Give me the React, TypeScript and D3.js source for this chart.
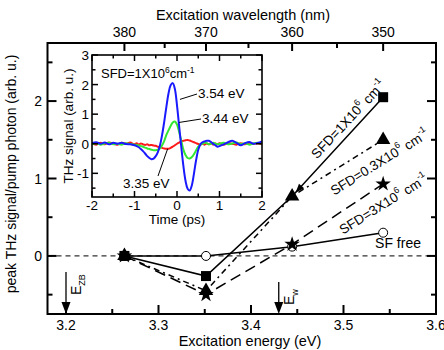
import React from 'react';
import * as d3 from 'd3';

// ---------- main chart data ----------
const energyTicks = [3.2, 3.3, 3.4, 3.5, 3.6];
const energyMinor = [3.25, 3.35, 3.45, 3.55];
const wavelengthTicks = [380, 370, 360, 350];
const wavelengthMinor = [375, 365, 355];
const yTicks = [0, 1, 2];
const yMinor = [-0.5, 0.5, 1.5, 2.5];

const wavelengths = [380, 370, 360, 350];
const sfd1 = [0.0, -0.26, 0.77, 2.05];
const sfd03 = [0.0, -0.45, 0.77, 1.5];
const sfd3 = [0.0, -0.5, 0.15, 0.93];
const sfFree = [0.0, 0.0, 0.12, 0.3];

const arrowEnergies = [3.2, 3.43];
const arrowLabels = ['ZB', 'w'];

// ---------- inset data ----------
const insetXTicks = [-2, -1, 0, 1, 2];
const insetXMinor = [-1.5, -0.5, 0.5, 1.5];
const insetYTicks = [-1, 0, 1, 2, 3];
const insetYMinor = [-1.5, -0.5, 0.5, 1.5, 2.5];

const insetTime = [
  -2.0, -1.9, -1.8, -1.7, -1.6, -1.5, -1.4, -1.3, -1.2, -1.1,
  -1.0, -0.95, -0.9, -0.85, -0.8, -0.75, -0.7, -0.65, -0.6, -0.55,
  -0.5, -0.45, -0.4, -0.35, -0.3, -0.25, -0.2, -0.15, -0.1, -0.05,
  0.0, 0.05, 0.1, 0.15, 0.2, 0.25, 0.3, 0.35, 0.4, 0.45,
  0.5, 0.55, 0.6, 0.65, 0.7, 0.75, 0.8, 0.85, 0.9, 0.95,
  1.0, 1.1, 1.2, 1.3, 1.4, 1.5, 1.6, 1.7, 1.8, 1.9, 2.0,
];
const blue354 = [
  0.02, 0.05, 0.0, 0.04, -0.02, 0.03, 0.0, 0.03, -0.01, -0.02,
  -0.05, -0.08, -0.12, -0.18, -0.25, -0.33, -0.42, -0.48, -0.52, -0.5,
  -0.42, -0.28, -0.05, 0.3, 0.75, 1.25, 1.7, 1.98, 2.05, 1.85,
  1.3, 0.6, -0.1, -0.75, -1.25, -1.52, -1.58, -1.4, -1.0, -0.55,
  -0.2, -0.02, 0.05, 0.08, 0.1, 0.1, 0.06, 0.0, -0.05, -0.1,
  -0.08, -0.02, 0.05, 0.1, 0.03, -0.05, 0.02, 0.06, 0.0, 0.03, 0.08,
];
const green344 = [
  -0.02, 0.02, -0.03, 0.01, 0.03, -0.02, 0.0, -0.03, 0.02, -0.01,
  -0.03, -0.04, -0.06, -0.08, -0.1, -0.13, -0.16, -0.18, -0.2, -0.22,
  -0.22, -0.2, -0.15, -0.05, 0.1, 0.3, 0.45, 0.6, 0.72, 0.75,
  0.65, 0.4, 0.1, -0.2, -0.38, -0.48, -0.5, -0.45, -0.35, -0.22,
  -0.1, -0.03, 0.0, 0.03, 0.02, -0.02, 0.0, 0.03, 0.01, -0.02,
  0.0, 0.03, -0.02, 0.01, 0.04, -0.01, 0.02, -0.03, 0.01, 0.03, 0.0,
];
const red335 = [
  0.01, -0.03, 0.03, -0.02, 0.04, 0.0, -0.03, 0.03, 0.0, 0.04,
  -0.02, 0.02, -0.03, 0.01, -0.02, -0.04, -0.02, -0.05, -0.04, -0.06,
  -0.07, -0.1, -0.12, -0.14, -0.16, -0.17, -0.17, -0.14, -0.1, -0.05,
  0.0, 0.04, 0.08, 0.1, 0.12, 0.13, 0.11, 0.08, 0.05, 0.02,
  -0.01, -0.03, 0.0, -0.03, 0.01, -0.02, 0.02, -0.03, 0.01, -0.02,
  0.02, -0.03, 0.02, 0.0, -0.03, 0.02, -0.02, 0.03, -0.01, 0.02, -0.02,
];

const FONT = 'Liberation Sans, Arial, sans-serif';

export default function App() {
  const W = 444;
  const H = 350;
  const x = d3.scaleLinear().domain([3.18, 3.6]).range([47.5, 436]);
  const y = d3.scaleLinear().domain([-0.75, 2.75]).range([314, 43]);
  const L = 47.5, R = 436, T = 43, B = 314;
  const energyOf = (nm: number) => 1240 / nm;

  const ix = d3.scaleLinear().domain([-2, 2]).range([92, 262]);
  const iy = d3.scaleLinear().domain([-1.8, 3]).range([197, 55]);

  const line = d3
    .line<number>()
    .x((_, i) => x(energyOf(wavelengths[i])))
    .y((d) => y(d));

  const insetLine = d3
    .line<number>()
    .x((_, i) => ix(insetTime[i]))
    .y((d) => iy(d))
    .curve(d3.curveCatmullRom);

  const sq = d3.symbol().type(d3.symbolSquare).size(100)();
  const tri = d3.symbol().type(d3.symbolTriangle).size(90)();
  const star = d3.symbol().type(d3.symbolStar).size(75)();

  const pts = (vals: number[]) =>
    vals.map((v, i) => [x(energyOf(wavelengths[i])), y(v)] as [number, number]);

  // arrowhead on the SFD=1 segment toward 360 nm point
  const p350 = [x(energyOf(350)), y(sfd1[3])];
  const p360 = [x(energyOf(360)), y(sfd1[2])];
  const ang = Math.atan2(p360[1] - p350[1], p360[0] - p350[0]);
  const tip = [p360[0] - Math.cos(ang) * 5, p360[1] - Math.sin(ang) * 5];
  const ah = 9, aw = 3.5;
  const arrowHead = [
    [tip[0], tip[1]],
    [tip[0] - Math.cos(ang) * ah - Math.sin(ang) * aw, tip[1] - Math.sin(ang) * ah + Math.cos(ang) * aw],
    [tip[0] - Math.cos(ang) * ah + Math.sin(ang) * aw, tip[1] - Math.sin(ang) * ah - Math.cos(ang) * aw],
  ];

  return (
    <svg
      width={W}
      height={H}
      style={{ position: 'absolute', left: 0, top: 0, background: '#fff' }}
      fontFamily={FONT}
    >
      <rect x={0} y={0} width={W} height={H} fill="#fff" />

      {/* zero dashed line */}
      <line x1={L} x2={R} y1={y(0)} y2={y(0)} stroke="#333" strokeWidth={1.2} strokeDasharray="5,4" />

      {/* series lines */}
      <path d={line(sfd1) || ''} fill="none" stroke="#000" strokeWidth={1.5} />
      <path d={line(sfd03) || ''} fill="none" stroke="#000" strokeWidth={1.5} strokeDasharray="6,4,2,4" />
      <path d={line(sfd3) || ''} fill="none" stroke="#000" strokeWidth={1.5} strokeDasharray="11,6" />
      <path d={line(sfFree) || ''} fill="none" stroke="#000" strokeWidth={1.5} />
      <polygon points={arrowHead.map((p) => p.join(',')).join(' ')} fill="#000" />

      {/* markers */}
      {pts(sfFree).map(([px, py], i) => (
        <circle key={'c' + i} cx={px} cy={py} r={4.5} fill="#fff" stroke="#000" strokeWidth={1} />
      ))}
      {pts(sfd3).map(([px, py], i) => (
        <path key={'s' + i} d={star || ''} transform={`translate(${px},${py})`} fill="#000" />
      ))}
      {pts(sfd03).map(([px, py], i) => (
        <path key={'t' + i} d={tri || ''} transform={`translate(${px},${py})`} fill="#000" />
      ))}
      {pts(sfd1).map(([px, py], i) =>
        i === 1 || i === 3 || i === 0 ? (
          <path key={'q' + i} d={sq || ''} transform={`translate(${px},${py})`} fill="#000" />
        ) : null
      )}

      {/* series labels */}
      <text transform="translate(349,120) rotate(-47)" textAnchor="middle" fontSize={13.5} dominantBaseline="middle">
        SFD=1X10<tspan dy={-5} fontSize={9}>6</tspan>
        <tspan dy={5}> cm</tspan>
        <tspan dy={-5} fontSize={9}>-1</tspan>
      </text>
      <text transform="translate(380,163) rotate(-32)" textAnchor="middle" fontSize={13.5} dominantBaseline="middle">
        SFD=0.3X10<tspan dy={-5} fontSize={9}>6</tspan>
        <tspan dy={5}> cm</tspan>
        <tspan dy={-5} fontSize={9}>-1</tspan>
      </text>
      <text transform="translate(384,205) rotate(-32)" textAnchor="middle" fontSize={13.5} dominantBaseline="middle">
        SFD=3X10<tspan dy={-5} fontSize={9}>6</tspan>
        <tspan dy={5}> cm</tspan>
        <tspan dy={-5} fontSize={9}>-1</tspan>
      </text>
      <text x={398} y={248} textAnchor="middle" fontSize={14}>
        SF free
      </text>

      {/* energy arrows */}
      {arrowEnergies.map((e, i) => {
        const ax = x(e);
        const top = i === 0 ? 272 : 282;
        return (
          <g key={'a' + i}>
            <line x1={ax} x2={ax} y1={top} y2={B - 8} stroke="#000" strokeWidth={1.3} />
            <polygon points={`${ax - 4.5},${B - 12} ${ax + 4.5},${B - 12} ${ax},${B}`} fill="#000" />
            <text
              transform={`translate(${ax + 15},${i === 0 ? 295 : 305}) rotate(-90)`}
              fontSize={14}
            >
              E<tspan dy={4} fontSize={9}>{arrowLabels[i]}</tspan>
            </text>
          </g>
        );
      })}

      {/* frame */}
      <rect x={L} y={T} width={R - L} height={B - T} fill="none" stroke="#000" strokeWidth={2} />

      {/* bottom ticks */}
      {energyTicks.map((t) => (
        <g key={'bt' + t}>
          <line x1={x(t)} x2={x(t)} y1={B} y2={B - 9} stroke="#000" strokeWidth={2} />
          <text x={x(t)} y={330} textAnchor="middle" fontSize={14}>
            {t.toFixed(1)}
          </text>
        </g>
      ))}
      {energyMinor.map((t) => (
        <line key={'bm' + t} x1={x(t)} x2={x(t)} y1={B} y2={B - 5} stroke="#000" strokeWidth={2} />
      ))}
      <text x={250} y={346} textAnchor="middle" fontSize={14.5}>
        Excitation energy (eV)
      </text>

      {/* top wavelength ticks */}
      {wavelengthTicks.map((w) => (
        <g key={'tt' + w}>
          <line x1={x(energyOf(w))} x2={x(energyOf(w))} y1={T} y2={T + 8} stroke="#000" strokeWidth={2} />
          <text x={x(energyOf(w))} y={37} textAnchor="middle" fontSize={14}>
            {w}
          </text>
        </g>
      ))}
      {wavelengthMinor.map((w) => (
        <line key={'tm' + w} x1={x(energyOf(w))} x2={x(energyOf(w))} y1={T} y2={T + 5} stroke="#000" strokeWidth={2} />
      ))}
      <text x={243} y={20} textAnchor="middle" fontSize={14.5}>
        Excitation wavelength (nm)
      </text>

      {/* y ticks */}
      {yTicks.map((t) => (
        <g key={'yt' + t}>
          <line x1={L} x2={L + 9} y1={y(t)} y2={y(t)} stroke="#000" strokeWidth={2} />
          <line x1={R} x2={R - 9} y1={y(t)} y2={y(t)} stroke="#000" strokeWidth={2} />
          <text x={42} y={y(t) + 5} textAnchor="end" fontSize={14}>
            {t}
          </text>
        </g>
      ))}
      {yMinor.map((t) => (
        <g key={'ym' + t}>
          <line x1={L} x2={L + 5} y1={y(t)} y2={y(t)} stroke="#000" strokeWidth={2} />
          <line x1={R} x2={R - 5} y1={y(t)} y2={y(t)} stroke="#000" strokeWidth={2} />
        </g>
      ))}
      <text transform="translate(16,174) rotate(-90)" textAnchor="middle" fontSize={14}>
        peak THz signal/pump photon (arb. u.)
      </text>

      {/* ---------- inset ---------- */}
      <rect x={ix(-2)} y={iy(3)} width={ix(2) - ix(-2)} height={iy(-1.8) - iy(3)} fill="#fff" />
      <path d={insetLine(red335) || ''} fill="none" stroke="#ff1a1a" strokeWidth={2} />
      <path d={insetLine(green344) || ''} fill="none" stroke="#33e633" strokeWidth={2} />
      <path d={insetLine(blue354) || ''} fill="none" stroke="#1a1aff" strokeWidth={2} />
      <rect
        x={ix(-2)}
        y={iy(3)}
        width={ix(2) - ix(-2)}
        height={iy(-1.8) - iy(3)}
        fill="none"
        stroke="#000"
        strokeWidth={1.6}
      />
      {insetXTicks.map((t) => (
        <g key={'ixt' + t}>
          <line x1={ix(t)} x2={ix(t)} y1={iy(-1.8)} y2={iy(-1.8) - 6} stroke="#000" strokeWidth={1.5} />
          <line x1={ix(t)} x2={ix(t)} y1={iy(3)} y2={iy(3) + 6} stroke="#000" strokeWidth={1.5} />
          <text x={ix(t)} y={210} textAnchor="middle" fontSize={13.5}>
            {t}
          </text>
        </g>
      ))}
      {insetXMinor.map((t) => (
        <g key={'ixm' + t}>
          <line x1={ix(t)} x2={ix(t)} y1={iy(-1.8)} y2={iy(-1.8) - 3.5} stroke="#000" strokeWidth={1.5} />
          <line x1={ix(t)} x2={ix(t)} y1={iy(3)} y2={iy(3) + 3.5} stroke="#000" strokeWidth={1.5} />
        </g>
      ))}
      {insetYTicks.map((t) => (
        <g key={'iyt' + t}>
          <line x1={ix(-2)} x2={ix(-2) + 6} y1={iy(t)} y2={iy(t)} stroke="#000" strokeWidth={1.5} />
          <line x1={ix(2)} x2={ix(2) - 6} y1={iy(t)} y2={iy(t)} stroke="#000" strokeWidth={1.5} />
          <text x={89} y={iy(t) + 5} textAnchor="end" fontSize={13.5}>
            {t}
          </text>
        </g>
      ))}
      {insetYMinor.map((t) => (
        <g key={'iym' + t}>
          <line x1={ix(-2)} x2={ix(-2) + 3.5} y1={iy(t)} y2={iy(t)} stroke="#000" strokeWidth={1.5} />
          <line x1={ix(2)} x2={ix(2) - 3.5} y1={iy(t)} y2={iy(t)} stroke="#000" strokeWidth={1.5} />
        </g>
      ))}
      <text x={177} y={224} textAnchor="middle" fontSize={13.5}>
        Time (ps)
      </text>
      <text transform="translate(73,126) rotate(-90)" textAnchor="middle" fontSize={13.5}>
        THz signal (arb. u.)
      </text>
      <text x={101} y={78} fontSize={13}>
        SFD=1X10<tspan dy={-5} fontSize={8.5}>6</tspan>
        <tspan dy={5}>cm</tspan>
        <tspan dy={-5} fontSize={8.5}>-1</tspan>
      </text>

      {/* inset annotations */}
      <line x1={ix(0.07)} y1={iy(1.5)} x2={197} y2={94} stroke="#000" strokeWidth={1} />
      <text x={198} y={98} fontSize={13.5}>3.54 eV</text>
      <line x1={ix(0.05)} y1={iy(0.72)} x2={201} y2={119} stroke="#000" strokeWidth={1} />
      <text x={202} y={123} fontSize={13.5}>3.44 eV</text>
      <line x1={ix(-0.22)} y1={iy(-0.17)} x2={158} y2={176} stroke="#000" strokeWidth={1} />
      <text x={123} y={188} fontSize={13.5}>3.35 eV</text>
    </svg>
  );
}
